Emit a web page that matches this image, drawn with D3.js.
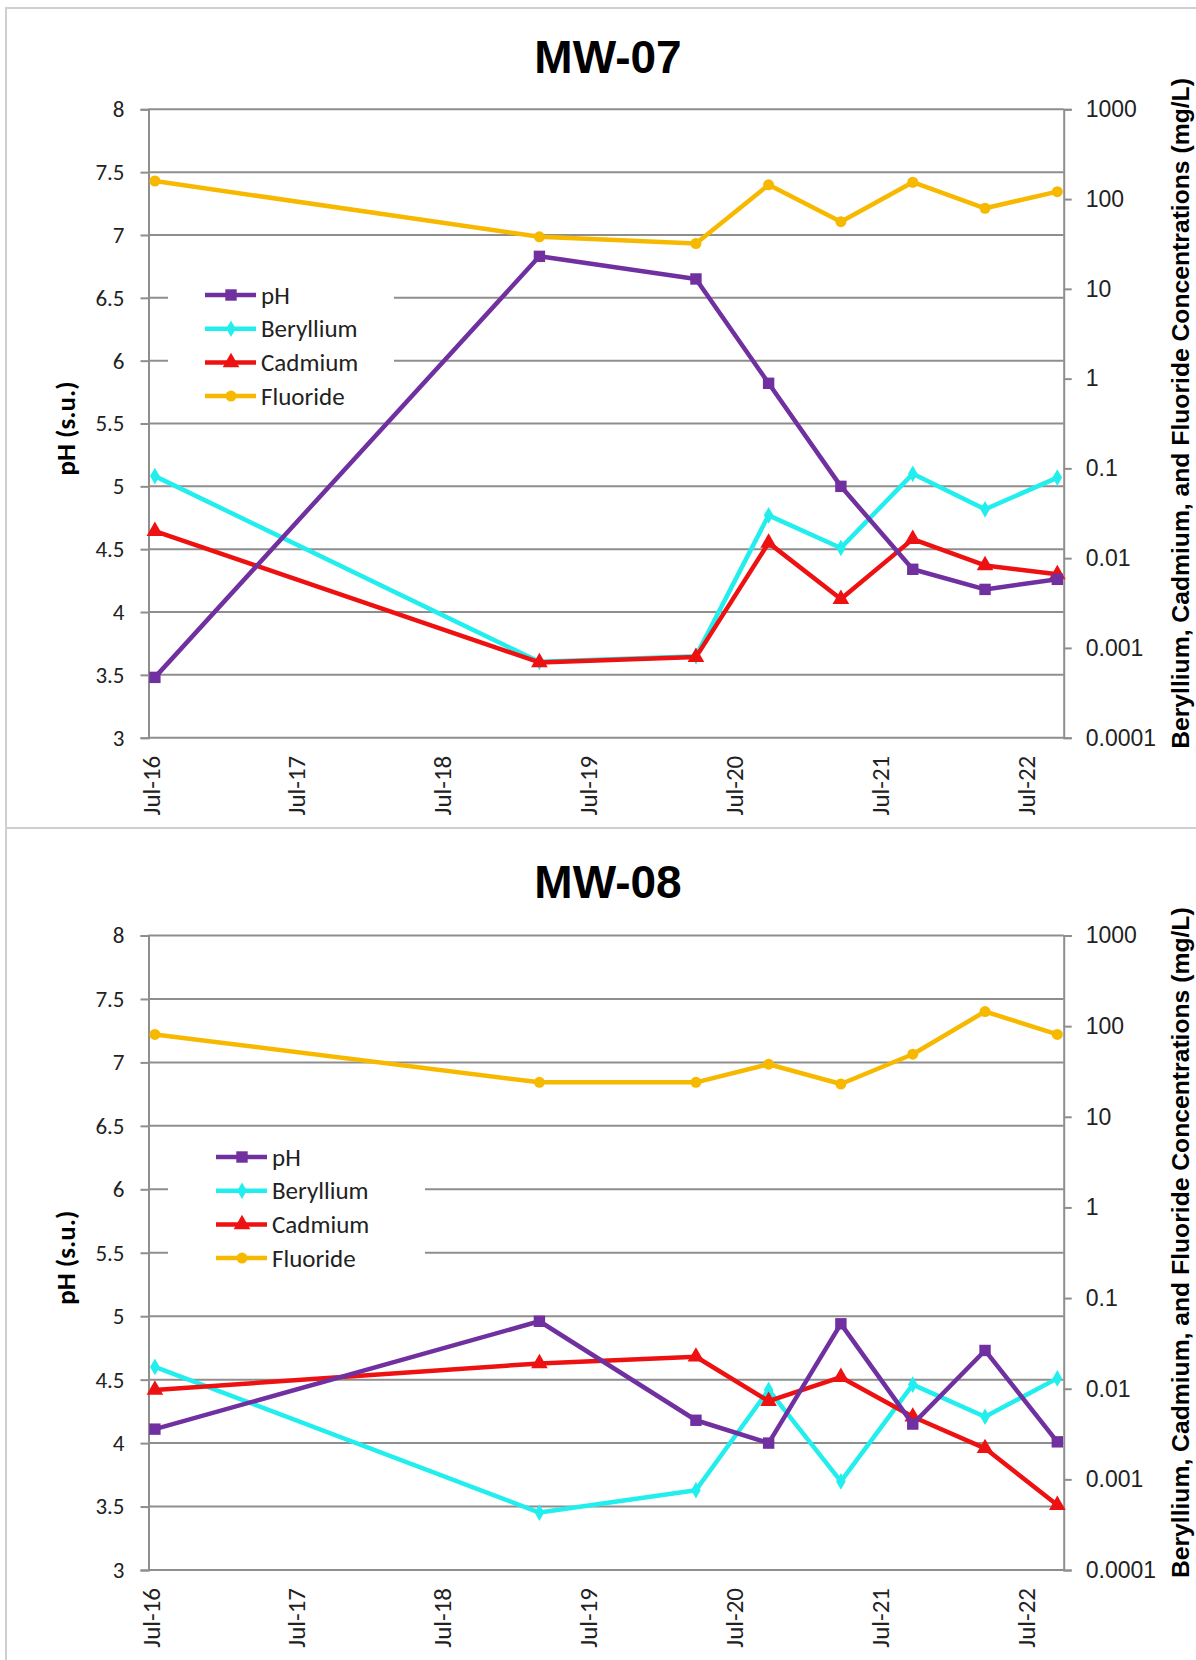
<!DOCTYPE html>
<html>
<head>
<meta charset="utf-8">
<script src="https://cdn.jsdelivr.net/npm/d3@7"></script>
<style>
  body { margin: 0; background: #fff; }
  svg { display: block; }
</style>
</head>
<body>
<svg id="chart"></svg>
<script>
// sampling dates shared by both wells
var sampleDates = ["2016-07-11", "2019-03-01", "2020-03-27", "2020-09-25",
                   "2021-03-25", "2021-09-21", "2022-03-21", "2022-09-18"];
var xTickDates = ["2016-07-01", "2017-07-01", "2018-07-01", "2019-07-01",
                  "2020-07-01", "2021-07-01", "2022-07-01"];
var phTicks = [3, 3.5, 4, 4.5, 5, 5.5, 6, 6.5, 7, 7.5, 8];
var concTicks = [0.0001, 0.001, 0.01, 0.1, 1, 10, 100, 1000];
var seriesNames = ["pH", "Beryllium", "Cadmium", "Fluoride"];

// MW-07
var mw07_pH = [3.48, 6.83, 6.65, 5.82, 5.0, 4.34, 4.18, 4.26];
var mw07_be = [0.082, 0.0007, 0.00081, 0.030, 0.013, 0.087, 0.035, 0.079];
var mw07_cd = [0.020, 0.00069, 0.00079, 0.0148, 0.0035, 0.0163, 0.0083, 0.0066];
var mw07_f  = [159, 38, 32, 144, 56, 154, 79, 121];

// MW-08
var mw08_pH = [4.11, 4.96, 4.18, 4.0, 4.94, 4.15, 4.73, 4.01];
var mw08_be = [0.0174, 0.00043, 0.00076, 0.0097, 0.00095, 0.0111, 0.0049, 0.013];
var mw08_cd = [0.0097, 0.019, 0.0225, 0.0073, 0.0134, 0.0049, 0.0022, 0.00052];
var mw08_f  = [81, 24, 24, 38, 23, 49, 145, 81];

var W = 1196, H = 1660;
var parse = d3.timeParse("%Y-%m-%d");
var fmt = d3.timeFormat("%b-%y");
var colors = ["#7030A0", "#22EEEE", "#EE1111", "#F7B900"];
var symbols = [d3.symbolSquare, d3.symbolDiamond, d3.symbolTriangle, d3.symbolCircle];
var symSizes = [130, 80, 120, 95];
var gridCol = "#8e8e8e";
var tickFont = "Carlito, Calibri, 'Open Sans', sans-serif";
var arialFont = "Arial, 'Liberation Sans', sans-serif";

var svg = d3.select("#chart").attr("width", W).attr("height", H);
svg.append("rect").attr("width", W).attr("height", H).attr("fill", "#fff");

// panel frames
svg.append("rect").attr("x", 6).attr("y", 8).attr("width", 1300).attr("height", 820)
    .attr("fill", "none").attr("stroke", "#cfcfcf").attr("stroke-width", 2);
svg.append("rect").attr("x", 6).attr("y", 828).attr("width", 1300).attr("height", 900)
    .attr("fill", "none").attr("stroke", "#cfcfcf").attr("stroke-width", 2);

var x = d3.scaleTime()
    .domain([parse("2016-06-25"), parse("2022-10-04")])
    .range([148.5, 1063.7]);

function drawPanel(opts) {
    var g = svg.append("g");
    var top = opts.top, bottom = opts.bottom;

    var yL = d3.scaleLinear().domain([3, 8]).range([bottom, top]);
    var yR = d3.scaleLog().domain([0.0001, 1000]).range([bottom, top]);

    // title
    g.append("text")
        .attr("x", 608).attr("y", opts.titleY)
        .attr("text-anchor", "middle")
        .style("font-family", arialFont)
        .style("font-weight", "bold")
        .style("font-size", "46px")
        .text(opts.title);

    // gridlines from left axis
    g.append("g").selectAll("line").data(phTicks).enter().append("line")
        .attr("x1", x.range()[0]).attr("x2", x.range()[1])
        .attr("y1", function(d) { return yL(d); })
        .attr("y2", function(d) { return yL(d); })
        .attr("stroke", gridCol).attr("stroke-width", 2);

    // left axis
    var axL = g.append("g")
        .attr("transform", "translate(" + x.range()[0] + ",0)")
        .call(d3.axisLeft(yL).tickValues(phTicks).tickSize(8).tickPadding(16)
              .tickFormat(d3.format("")));
    axL.select(".domain").attr("stroke", gridCol).attr("stroke-width", 2);
    axL.selectAll(".tick line").attr("stroke", gridCol).attr("stroke-width", 2);
    axL.selectAll("text").style("font-family", tickFont).style("font-size", "23px").attr("fill", "#222");

    // right axis
    var axR = g.append("g")
        .attr("transform", "translate(" + x.range()[1] + ",0)")
        .call(d3.axisRight(yR).tickValues(concTicks).tickSize(8).tickPadding(14)
              .tickFormat(function(d) { return d >= 1 ? d3.format("d")(d) : String(d); }));
    axR.select(".domain").attr("stroke", gridCol).attr("stroke-width", 2);
    axR.selectAll(".tick line").attr("stroke", gridCol).attr("stroke-width", 2);
    axR.selectAll("text").style("font-family", arialFont).style("font-size", "23px").attr("fill", "#222");

    // x tick labels, rotated
    g.append("g").selectAll("text").data(xTickDates).enter().append("text")
        .attr("transform", function(d) {
            return "translate(" + x(parse(d)) + "," + (bottom + 18) + ") rotate(-90)";
        })
        .attr("dy", "0.35em")
        .attr("text-anchor", "end")
        .style("font-family", tickFont)
        .style("font-size", "25px")
        .attr("fill", "#222")
        .text(function(d) { return fmt(parse(d)); });

    // axis titles
    g.append("text")
        .attr("transform", "translate(75," + ((top + bottom) / 2 + 5) + ") rotate(-90)")
        .attr("text-anchor", "middle")
        .style("font-family", tickFont)
        .style("font-weight", "bold")
        .style("font-size", "27px")
        .text("pH (s.u.)");

    g.append("text")
        .attr("transform", "translate(1189," + ((top + bottom) / 2 - 10) + ") rotate(-90)")
        .attr("text-anchor", "middle")
        .style("font-family", arialFont)
        .style("font-weight", "bold")
        .style("font-size", "24.7px")
        .text("Beryllium, Cadmium, and Fluoride Concentrations (mg/L)");

    // legend
    var lg = g.append("g");
    lg.append("rect")
        .attr("x", 168).attr("y", opts.legY - 18)
        .attr("width", opts.legW).attr("height", 136)
        .attr("fill", "#fff");
    seriesNames.forEach(function(name, i) {
        var ly = opts.legY + i * 33.7;
        lg.append("line")
            .attr("x1", opts.legX).attr("x2", opts.legX + 51)
            .attr("y1", ly).attr("y2", ly)
            .attr("stroke", colors[i]).attr("stroke-width", 4.5);
        lg.append("path")
            .attr("d", d3.symbol().type(symbols[i]).size(symSizes[i])())
            .attr("transform", "translate(" + (opts.legX + 26) + "," + ly + ")")
            .attr("fill", colors[i]);
        lg.append("text")
            .attr("x", opts.legX + 56).attr("y", ly)
            .attr("dy", "0.35em")
            .style("font-family", tickFont)
            .style("font-size", "25px")
            .attr("fill", "#222")
            .text(name);
    });

    // series
    var series = [
        {vals: opts.pH, y: yL},
        {vals: opts.be, y: yR},
        {vals: opts.cd, y: yR},
        {vals: opts.f,  y: yR}
    ];
    // draw fluoride first, pH last like the original stacking
    [3, 1, 2, 0].forEach(function(i) {
        var s = series[i];
        var pts = s.vals.map(function(v, j) { return {d: parse(sampleDates[j]), v: v}; });
        var line = d3.line()
            .x(function(p) { return x(p.d); })
            .y(function(p) { return s.y(p.v); });
        g.append("path")
            .datum(pts)
            .attr("d", line)
            .attr("fill", "none")
            .attr("stroke", colors[i])
            .attr("stroke-width", 4.5)
            .attr("stroke-linejoin", "round");
        g.append("g").selectAll("path").data(pts).enter().append("path")
            .attr("d", d3.symbol().type(symbols[i]).size(symSizes[i]))
            .attr("transform", function(p) { return "translate(" + x(p.d) + "," + s.y(p.v) + ")"; })
            .attr("fill", colors[i]);
    });
}

drawPanel({
    title: "MW-07", titleY: 73, top: 109.3, bottom: 737.7,
    legY: 295, legX: 205, legW: 226,
    pH: mw07_pH, be: mw07_be, cd: mw07_cd, f: mw07_f
});

drawPanel({
    title: "MW-08", titleY: 898, top: 935.5, bottom: 1570,
    legY: 1157, legX: 216, legW: 257,
    pH: mw08_pH, be: mw08_be, cd: mw08_cd, f: mw08_f
});
</script>
</body>
</html>
